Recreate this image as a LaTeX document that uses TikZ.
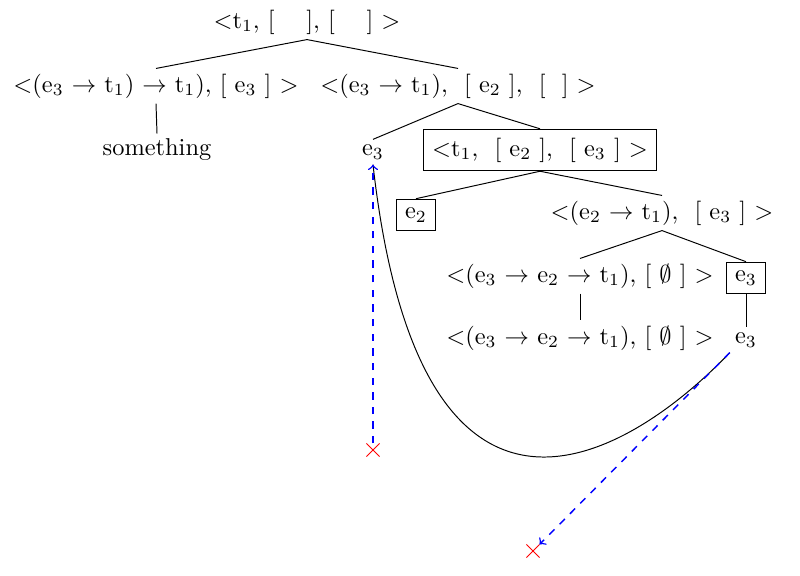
\documentclass[tikz,border=0pt]{standalone}
\usepackage{amsmath,amssymb}
\usetikzlibrary{positioning,shapes.misc}
\tikzset{lbl/.style={inner sep=2pt}, boxed/.style={draw, inner sep=3.5pt}, branch/.style={black}, trace/.style={blue, dashed, semithick, ->}, miss/.style={cross out, draw=red, minimum size=5pt, inner sep=0pt}}

\begin{document}
\begin{tikzpicture}[x=0.0144cm, y=-0.0144cm]
    \useasboundingbox (0,0) rectangle (800,575);
    \node[lbl] (root) at (307,22) {$<$t$_1$, [\hspace{13pt}], [\hspace{13pt}] $>$};
    \node[lbl] (lft) at (156,86) {$<$(e$_3$ $\rightarrow$ t$_1$) $\rightarrow$ t$_1$), [ e$_3$ ] $>$};
    \node[lbl] (rgt) at (458,86) {$<$(e$_3$ $\rightarrow$ t$_1$),~ [ e$_2$ ],~ [~~] $>$};
    \node[lbl] (smth) at (157,150) {something};
    \node[lbl] (eA) at (373,152) {e$_3$};
    \node[boxed] (tbox) at (540,150) {$<$t$_1$,~ [ e$_2$ ],~ [ e$_3$ ] $>$};
    \node[boxed] (eB) at (416,215) {e$_2$};
    \node[lbl] (rgtB) at (662,213) {$<$(e$_2$ $\rightarrow$ t$_1$),~ [ e$_3$ ] $>$};
    \node[lbl] (lftC) at (580,276) {$<$(e$_3$ $\rightarrow$ e$_2$ $\rightarrow$ t$_1$), [ $\emptyset$ ] $>$};
    \node[boxed] (eC) at (746,278) {e$_3$};
    \node[lbl] (lftD) at (580,338) {$<$(e$_3$ $\rightarrow$ e$_2$ $\rightarrow$ t$_1$), [ $\emptyset$ ] $>$};
    \node[lbl] (eD) at (746,340) {e$_3$};
    \node[miss] (xA) at (373,450) {};
    \node[miss] (xB) at (533,551) {};
    % tree
    \draw[branch] (lft.north) -- (root.south) -- (rgt.north);
    \draw[branch] (lft.south) -- (smth.north);
    \draw[branch] (eA.north) -- (rgt.south) -- (tbox.north);
    \draw[branch] (eB.north) -- (tbox.south) -- (rgtB.north);
    \draw[branch] (lftC.north) -- (rgtB.south) -- (eC.north);
    \draw[branch] (lftC.south) -- (lftD.north);
    \draw[branch] (eC.south) -- (eD.north);
    % links
    \draw (eD.south west) .. controls (625,462) and (420,582) .. (eA.south);
    \draw[trace] (xA) -- (eA.south);
    \draw[trace] (eD.south west) -- (xB);
\end{tikzpicture}
\end{document}
